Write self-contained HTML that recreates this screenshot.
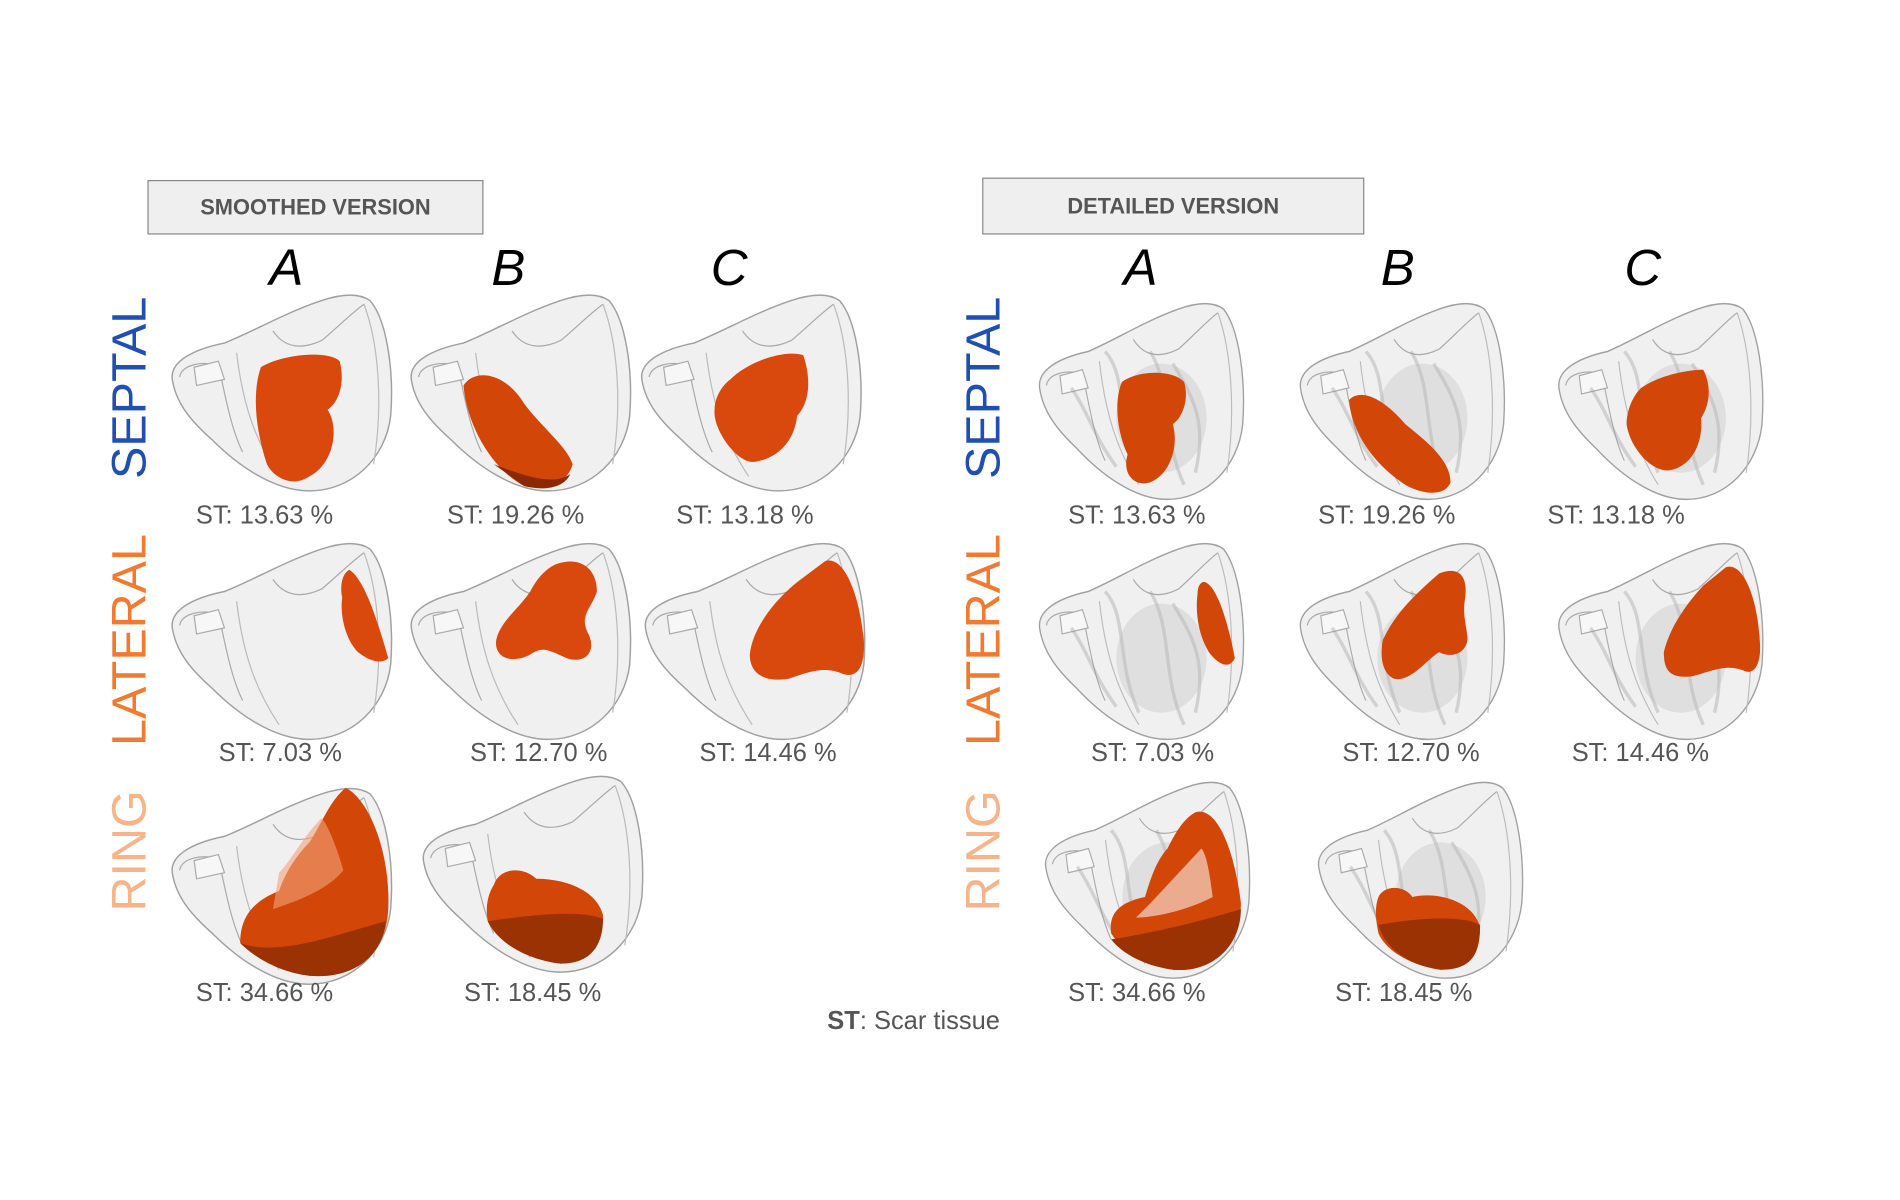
<!DOCTYPE html>
<html><head><meta charset="utf-8"><style>
html,body{margin:0;padding:0;background:#fff;}
svg{display:block;}
.st{font-family:"Liberation Sans",sans-serif;font-size:21px;fill:#555;text-anchor:middle;}
.hd{font-family:"Liberation Sans",sans-serif;font-size:18px;font-weight:bold;fill:#555;text-anchor:middle;}
.col{font-family:"Liberation Sans",sans-serif;font-size:42px;font-style:italic;fill:#000;text-anchor:middle;}
.row{font-family:"Liberation Sans",sans-serif;font-size:40px;text-anchor:middle;}
</style></head><body>
<svg width="1900" height="1200" viewBox="0 0 1566 990" preserveAspectRatio="none" xmlns="http://www.w3.org/2000/svg">
<defs>
<g id="h">
<path d="M2,70 C0,55 20,45 45,40 C70,30 95,15 125,5 C140,0 155,-2 165,5 C178,20 185,60 182,100 C178,135 150,162 115,162 C85,162 55,140 35,120 C18,105 5,90 2,70 Z" fill="#f0f0f0" stroke="#a0a0a0" stroke-width="1.2"/>
<path d="M8,68 C10,58 25,55 40,58 C45,80 50,110 60,130" fill="none" stroke="#aaa" stroke-width="1"/>
<path d="M20,60 L40,55 L45,70 L22,75 Z" fill="#f7f7f7" stroke="#aaa" stroke-width="1"/>
<path d="M55,48 C60,90 70,120 90,150" fill="none" stroke="#bbb" stroke-width="1"/>
<path d="M85,30 C95,45 110,45 125,38 C135,30 150,15 160,8" fill="none" stroke="#aaa" stroke-width="1"/>
<path d="M160,8 C172,40 176,90 168,140" fill="none" stroke="#bbb" stroke-width="1"/>
</g>
<g id="hd2">
<use href="#h"/>
<path d="M60,40 C80,60 70,100 90,140 M100,40 C120,70 110,110 130,150 M30,70 C45,90 50,110 70,135 M120,50 C140,80 150,100 140,140" fill="none" stroke="#999" stroke-width="3" opacity="0.35"/>
<ellipse cx="110" cy="95" rx="40" ry="45" fill="#bbb" opacity="0.3"/>
</g>
</defs>

<rect x="122" y="149" width="276" height="44" fill="#efefef" stroke="#888" stroke-width="1"/>
<text class="hd" x="260" y="177">SMOOTHED VERSION</text>
<rect x="810" y="147" width="314" height="46" fill="#efefef" stroke="#888" stroke-width="1"/>
<text class="hd" x="967" y="176">DETAILED VERSION</text>

<text class="col" x="236" y="235">A</text><text class="col" x="419" y="235">B</text><text class="col" x="601" y="235">C</text>
<text class="col" x="940" y="235">A</text><text class="col" x="1152" y="235">B</text><text class="col" x="1354" y="235">C</text>

<text class="row" fill="#1f4fb0" transform="translate(120,320) rotate(-90)">SEPTAL</text>
<text class="row" fill="#f07a30" transform="translate(120,528) rotate(-90)">LATERAL</text>
<text class="row" fill="#f6b488" transform="translate(120,702) rotate(-90)">RING</text>
<text class="row" fill="#1f4fb0" transform="translate(824,320) rotate(-90)">SEPTAL</text>
<text class="row" fill="#f07a30" transform="translate(824,528) rotate(-90)">LATERAL</text>
<text class="row" fill="#f6b488" transform="translate(824,702) rotate(-90)">RING</text>

<!-- Smoothed -->
<g transform="translate(140,243)"><use href="#h"/>
<path d="M75,60 C90,50 130,45 140,55 C145,75 138,90 130,95 C140,110 135,140 115,150 C100,160 85,150 80,140 C70,110 68,80 75,60Z" fill="#d9480c"/></g>
<g transform="translate(337,243)"><use href="#h"/>
<path d="M45,75 C55,60 80,65 95,90 C110,110 130,125 135,140 C130,158 110,162 95,158 C70,145 48,110 45,75Z" fill="#d24608"/><path d="M70,140 C95,150 120,158 133,148 C128,160 110,162 95,158Z" fill="#8a2a04"/></g>
<g transform="translate(527,243)"><use href="#h"/>
<path d="M75,70 C90,55 120,45 135,50 C142,70 140,90 130,100 C128,120 115,135 95,138 C80,140 60,110 62,95 C62,85 68,75 75,70Z" fill="#d9480c"/></g>

<g transform="translate(140,448)"><use href="#h"/>
<path d="M148,22 C160,30 170,60 180,95 C175,100 165,98 155,90 C145,80 140,60 142,45 C140,35 142,25 148,22Z" fill="#d9480c"/></g>
<g transform="translate(337,448)"><use href="#h"/>
<path d="M120,18 C140,10 155,20 155,40 C150,55 140,60 148,75 C155,90 145,100 130,95 C115,88 110,85 100,92 C85,100 70,95 72,80 C75,65 90,55 100,40 C105,30 112,22 120,18Z" fill="#d9480c"/></g>
<g transform="translate(530,448)"><use href="#h"/>
<path d="M150,15 C165,10 178,40 182,80 C183,100 178,112 165,108 C150,102 140,105 120,112 C100,115 88,108 88,92 C90,70 110,45 130,30 Z" fill="#d9480c"/></g>

<g transform="translate(140,650)"><use href="#h"/>
<path d="M145,0 C165,10 182,55 180,100 C178,140 150,158 115,155 C90,152 70,140 58,128 C58,110 65,95 90,85 C95,70 105,55 115,45 C125,30 132,10 145,0Z" fill="#d24608"/>
<path d="M85,100 C100,95 130,85 143,68 C138,50 130,30 125,25 C110,40 100,60 90,70Z" fill="#f2a27a" opacity="0.6"/>
<path d="M58,128 C90,140 140,120 178,110 C175,140 150,158 115,155 C90,152 70,140 58,128Z" fill="#9a3204"/></g>
<g transform="translate(347,640)"><use href="#h"/>
<path d="M60,90 C65,75 85,75 95,85 C120,85 145,95 150,115 C150,140 140,155 115,155 C90,152 65,140 55,120 C53,108 55,98 60,90Z" fill="#d24608"/>
<path d="M55,120 C90,115 130,110 150,118 C150,140 140,155 115,155 C90,152 65,140 55,120Z" fill="#9a3204"/></g>

<!-- Detailed -->
<g transform="translate(855,250) scale(0.93,1)"><use href="#hd2"/>
<path d="M75,65 C90,55 120,55 130,65 C135,80 128,95 120,100 C125,115 120,140 100,148 C85,152 75,140 80,125 C70,105 68,80 75,65Z" fill="#d24608"/></g>
<g transform="translate(1070,250) scale(0.93,1)"><use href="#hd2"/>
<path d="M45,80 C55,70 75,78 95,100 C115,115 135,130 135,148 C130,160 110,158 95,150 C70,135 48,110 45,80Z" fill="#d24608"/></g>
<g transform="translate(1283,250) scale(0.93,1)"><use href="#hd2"/>
<path d="M75,70 C90,60 115,55 130,55 C138,70 135,85 128,95 C130,115 120,135 100,138 C85,140 65,120 62,100 C62,88 68,76 75,70Z" fill="#d24608"/></g>

<g transform="translate(855,448) scale(0.93,1)"><use href="#hd2"/>
<path d="M148,32 C160,35 170,70 175,95 C170,105 160,100 152,90 C142,75 140,55 142,42 C142,35 145,32 148,32Z" fill="#d24608"/></g>
<g transform="translate(1070,448) scale(0.93,1)"><use href="#hd2"/>
<path d="M125,25 C145,18 150,30 148,45 C145,60 150,70 150,80 C148,92 135,95 125,90 C115,95 100,115 85,112 C75,108 72,95 75,80 C85,60 100,45 125,25Z" fill="#d24608"/></g>
<g transform="translate(1283,448) scale(0.93,1)"><use href="#hd2"/>
<path d="M150,20 C165,15 178,45 180,80 C182,100 175,110 165,105 C150,100 140,105 120,110 C100,112 95,105 95,90 C100,70 115,50 130,35 Z" fill="#d24608"/></g>

<g transform="translate(860,645) scale(0.93,1)"><use href="#hd2"/>
<path d="M135,25 C155,20 170,60 175,100 C175,135 150,158 115,155 C90,152 70,140 60,125 C58,110 65,100 90,95 C95,80 100,65 110,55 C118,40 125,30 135,25Z" fill="#d24608"/>
<path d="M82,112 C100,112 130,105 150,95 C148,80 145,60 140,55 C125,70 110,85 95,100Z" fill="#fff" opacity="0.55"/>
<path d="M60,130 C95,125 140,115 175,105 C175,135 150,158 115,155 C90,152 70,142 60,130Z" fill="#9a3204"/></g>
<g transform="translate(1085,645) scale(0.93,1)"><use href="#hd2"/>
<path d="M55,95 C60,85 78,85 85,95 C110,90 140,100 145,120 C145,145 135,155 110,155 C85,152 62,140 55,125 C52,112 52,102 55,95Z" fill="#d24608"/>
<path d="M55,118 C90,112 130,110 145,118 C145,145 135,155 110,155 C85,152 62,140 55,118Z" fill="#9a3204"/></g>

<text class="st" x="218" y="432">ST: 13.63 %</text>
<text class="st" x="425" y="432">ST: 19.26 %</text>
<text class="st" x="614" y="432">ST: 13.18 %</text>
<text class="st" x="231" y="628">ST: 7.03 %</text>
<text class="st" x="444" y="628">ST: 12.70 %</text>
<text class="st" x="633" y="628">ST: 14.46 %</text>
<text class="st" x="218" y="826">ST: 34.66 %</text>
<text class="st" x="439" y="826">ST: 18.45 %</text>
<text class="st" x="937" y="432">ST: 13.63 %</text>
<text class="st" x="1143" y="432">ST: 19.26 %</text>
<text class="st" x="1332" y="432">ST: 13.18 %</text>
<text class="st" x="950" y="628">ST: 7.03 %</text>
<text class="st" x="1163" y="628">ST: 12.70 %</text>
<text class="st" x="1352" y="628">ST: 14.46 %</text>
<text class="st" x="937" y="826">ST: 34.66 %</text>
<text class="st" x="1157" y="826">ST: 18.45 %</text>
<text class="st" x="753" y="849"><tspan font-weight="bold">ST</tspan>: Scar tissue</text>
</svg>
</body></html>
